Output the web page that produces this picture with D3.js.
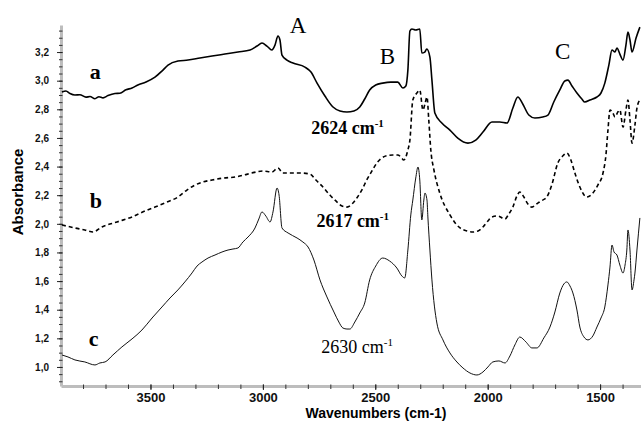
<!DOCTYPE html>
<html>
<head>
<meta charset="utf-8">
<script src="https://cdn.jsdelivr.net/npm/d3@7"></script>
<style>
  body { margin: 0; background: #fff; }
  svg { display: block; }
</style>
</head>
<body>
<div id="chart"></div>
<script>
// spectra: [wavenumber cm-1, absorbance]
const spectrumA = [
  [3894,2.921],[3876,2.928],[3858,2.910],[3836,2.900],[3814,2.902],[3787,2.885],[3769,2.889],
  [3747,2.874],[3729,2.888],[3711,2.880],[3689,2.896],[3658,2.910],[3636,2.912],[3609,2.936],
  [3582,2.949],[3556,2.970],[3520,2.991],[3480,3.025],[3449,3.067],[3422,3.109],[3378,3.137],
  [3333,3.144],[3280,3.158],[3226,3.172],[3169,3.186],[3111,3.200],[3057,3.214],[3026,3.242],
  [3004,3.263],[2982,3.242],[2960,3.214],[2946,3.249],[2933,3.312],[2924,3.284],[2915,3.179],
  [2893,3.144],[2866,3.123],[2813,3.095],[2786,3.060],[2759,2.983],[2724,2.893],[2688,2.816],
  [2657,2.788],[2626,2.781],[2595,2.788],[2569,2.816],[2547,2.872],[2525,2.935],[2498,2.970],
  [2467,2.983],[2431,2.990],[2400,2.990],[2377,2.949],[2364,2.963],[2355,3.074],[2346,3.347],
  [2337,3.361],[2320,3.354],[2302,3.361],[2293,3.193],[2280,3.200],[2271,3.221],[2257,3.165],
  [2248,3.004],[2235,2.774],[2204,2.704],[2168,2.655],[2133,2.599],[2088,2.564],[2053,2.585],
  [2021,2.641],[1981,2.711],[1946,2.711],[1914,2.704],[1888,2.809],[1866,2.886],[1844,2.837],
  [1817,2.760],[1790,2.739],[1755,2.746],[1732,2.760],[1706,2.851],[1679,2.935],[1657,2.998],
  [1643,3.004],[1625,2.963],[1603,2.914],[1581,2.872],[1568,2.851],[1545,2.865],[1514,2.886],
  [1496,2.914],[1479,2.983],[1461,3.109],[1447,3.214],[1434,3.200],[1425,3.228],[1412,3.186],
  [1398,3.144],[1385,3.249],[1376,3.339],[1367,3.284],[1358,3.200],[1340,3.298],[1323,3.374]
];

const spectrumB = [
  [3894,1.992],[3836,1.971],[3792,1.957],[3756,1.943],[3716,1.978],[3649,2.013],[3582,2.048],
  [3524,2.090],[3480,2.117],[3427,2.152],[3378,2.187],[3338,2.236],[3302,2.271],[3267,2.292],
  [3226,2.306],[3173,2.320],[3124,2.327],[3084,2.341],[3049,2.355],[3000,2.369],[2960,2.362],
  [2933,2.390],[2911,2.355],[2871,2.355],[2835,2.355],[2791,2.348],[2764,2.306],[2733,2.257],
  [2702,2.201],[2670,2.152],[2648,2.124],[2626,2.117],[2604,2.138],[2582,2.180],[2560,2.236],
  [2538,2.306],[2515,2.369],[2493,2.425],[2471,2.460],[2449,2.476],[2422,2.481],[2400,2.481],
  [2386,2.467],[2373,2.446],[2355,2.516],[2346,2.585],[2333,2.865],[2315,2.914],[2302,2.935],
  [2288,2.795],[2279,2.837],[2270,2.886],[2262,2.725],[2253,2.516],[2239,2.376],[2213,2.215],
  [2168,2.062],[2123,1.971],[2092,1.950],[2066,1.943],[2043,1.950],[2021,1.978],[1999,2.020],
  [1981,2.048],[1955,2.055],[1923,2.034],[1906,2.069],[1888,2.117],[1870,2.194],[1857,2.222],
  [1839,2.187],[1821,2.138],[1803,2.117],[1777,2.145],[1755,2.166],[1737,2.187],[1715,2.271],
  [1688,2.425],[1666,2.474],[1648,2.495],[1630,2.446],[1612,2.355],[1590,2.257],[1559,2.187],
  [1532,2.215],[1510,2.271],[1487,2.355],[1474,2.481],[1465,2.655],[1456,2.795],[1443,2.774],
  [1434,2.746],[1421,2.781],[1412,2.795],[1398,2.676],[1385,2.795],[1376,2.865],[1367,2.725],
  [1358,2.564],[1345,2.690],[1336,2.809],[1323,2.865]
];

const spectrumC = [
  [3894,1.084],[3867,1.070],[3836,1.049],[3792,1.035],[3747,1.014],[3725,1.028],[3702,1.035],
  [3667,1.084],[3627,1.140],[3582,1.196],[3538,1.258],[3493,1.342],[3449,1.419],[3413,1.482],
  [3378,1.538],[3347,1.594],[3315,1.657],[3293,1.705],[3271,1.733],[3244,1.761],[3213,1.782],
  [3182,1.803],[3155,1.817],[3133,1.824],[3111,1.831],[3089,1.873],[3066,1.908],[3035,1.971],
  [3018,2.034],[3004,2.083],[2987,2.055],[2968,2.013],[2955,2.083],[2937,2.250],[2928,2.201],
  [2915,1.971],[2888,1.936],[2848,1.901],[2822,1.873],[2799,1.838],[2773,1.747],[2746,1.608],
  [2715,1.489],[2684,1.384],[2662,1.314],[2644,1.272],[2626,1.265],[2613,1.265],[2591,1.314],
  [2569,1.377],[2547,1.447],[2525,1.608],[2498,1.705],[2467,1.761],[2436,1.740],[2404,1.691],
  [2382,1.636],[2369,1.622],[2355,1.817],[2342,2.062],[2333,2.166],[2320,2.320],[2310,2.397],
  [2302,2.306],[2293,2.027],[2284,2.166],[2279,2.215],[2270,2.166],[2266,2.048],[2257,1.817],
  [2248,1.608],[2226,1.307],[2199,1.189],[2168,1.098],[2141,1.042],[2110,0.993],[2079,0.958],
  [2048,0.944],[2021,0.965],[1999,1.000],[1977,1.035],[1950,1.042],[1923,1.028],[1901,1.077],
  [1879,1.154],[1857,1.209],[1830,1.175],[1803,1.133],[1781,1.133],[1750,1.203],[1723,1.279],
  [1701,1.384],[1679,1.517],[1661,1.580],[1648,1.594],[1634,1.566],[1621,1.517],[1603,1.398],
  [1590,1.279],[1572,1.210],[1554,1.189],[1532,1.217],[1514,1.279],[1496,1.342],[1479,1.419],
  [1465,1.573],[1456,1.698],[1447,1.852],[1438,1.803],[1425,1.782],[1412,1.712],[1398,1.656],
  [1389,1.712],[1381,1.817],[1376,1.957],[1367,1.817],[1358,1.538],[1349,1.608],[1345,1.656],
  [1336,1.817],[1323,2.041]
];

const xTicks = [3500, 3000, 2500, 2000, 1500];
const yTicks = [1.0, 1.2, 1.4, 1.6, 1.8, 2.0, 2.2, 2.4, 2.6, 2.8, 3.0, 3.2];

// curve letters and band letters, placed at [wavenumber, absorbance]
const curveNames = ["a", "b", "c"];
const curveNamePos = [[3770, 3.015], [3770, 2.11], [3775, 1.145]];
const bandNames = ["A", "B", "C"];
const bandNamePos = [[2880, 3.33], [2480, 3.12], [1700, 3.15]];
// minimum of the OD band for each curve
const minLabels = ["2624", "2617", "2630"];
const minLabelPos = [[2785, 2.63], [2762, 1.98], [2740, 1.098]];
const minLabelBold = [true, true, false];

const W = 641, H = 422;
const margin = {left: 61, right: 641, top: 25, bottom: 386};

const svg = d3.select("#chart")
  .append("svg")
    .attr("width", W)
    .attr("height", H);

// reversed wavenumber axis
const x = d3.scaleLinear()
  .domain([3898, 1318])
  .range([margin.left, margin.right]);

const y = d3.scaleLinear()
  .domain([0.867, 3.389])
  .range([margin.bottom, margin.top]);

const sans = "'Liberation Sans', Arial, sans-serif";
const serif = "'Liberation Serif', 'Times New Roman', serif";
const comma = d => d3.format(".1f")(d).replace(".", ",");

// x axis: grey bar with minor ticks every 100
const xMinor = svg.append("g")
  .attr("transform", "translate(0," + margin.bottom + ")")
  .call(d3.axisBottom(x).tickValues(d3.range(3800, 1300, -100)).tickSize(3).tickSizeOuter(0).tickFormat(""));
xMinor.select(".domain").attr("stroke", "#bdbdbd").attr("stroke-width", 3);
xMinor.selectAll(".tick line").attr("stroke", "#333").attr("y1", -1.5);

const xAxis = svg.append("g")
  .attr("transform", "translate(0," + margin.bottom + ")")
  .call(d3.axisBottom(x).tickValues(xTicks).tickSize(4).tickPadding(3)
    .tickFormat(d3.format("d")).tickSizeOuter(0));
xAxis.select(".domain").remove();
xAxis.selectAll(".tick line").attr("stroke", "#222").attr("y1", -1.5);
xAxis.selectAll("text")
  .attr("font-family", sans)
  .attr("font-size", 13)
  .attr("font-weight", "bold")
  .attr("fill", "#111");

// y axis: grey bar with minor ticks every 0.05
const yMinor = svg.append("g")
  .attr("transform", "translate(" + margin.left + ",0)")
  .call(d3.axisLeft(y).tickValues(d3.range(0.9, 3.39, 0.05)).tickSize(2).tickSizeOuter(0).tickFormat(""));
yMinor.select(".domain").attr("stroke", "#bdbdbd").attr("stroke-width", 3);
yMinor.selectAll(".tick line").attr("stroke", "#333").attr("x1", 1.5);

const yAxis = svg.append("g")
  .attr("transform", "translate(" + margin.left + ",0)")
  .call(d3.axisLeft(y).tickValues(yTicks).tickSize(4).tickPadding(8).tickFormat(comma).tickSizeOuter(0));
yAxis.select(".domain").remove();
yAxis.selectAll(".tick line").attr("stroke", "#222").attr("x1", 1.5);
yAxis.selectAll("text")
  .attr("font-family", sans)
  .attr("font-size", 10)
  .attr("font-weight", "bold")
  .attr("fill", "#111");

// axis titles
svg.append("text")
  .attr("x", 376)
  .attr("y", 418)
  .attr("text-anchor", "middle")
  .attr("font-family", sans)
  .attr("font-size", 14)
  .attr("font-weight", "bold")
  .text("Wavenumbers (cm-1)");

svg.append("text")
  .attr("transform", "translate(23,192) rotate(-90)")
  .attr("text-anchor", "middle")
  .attr("font-family", sans)
  .attr("font-size", 15)
  .attr("font-weight", "bold")
  .text("Absorbance");

// spectra
const line = d3.line()
  .x(d => x(d[0]))
  .y(d => y(d[1]))
  .curve(d3.curveMonotoneX);

svg.append("path")
  .datum(spectrumA)
  .attr("fill", "none")
  .attr("stroke", "#000")
  .attr("stroke-width", 1.6)
  .attr("d", line);

svg.append("path")
  .datum(spectrumB)
  .attr("fill", "none")
  .attr("stroke", "#000")
  .attr("stroke-width", 1.6)
  .attr("stroke-dasharray", "4,3")
  .attr("d", line);

svg.append("path")
  .datum(spectrumC)
  .attr("fill", "none")
  .attr("stroke", "#111")
  .attr("stroke-width", 1)
  .attr("d", line);

// annotations
svg.selectAll(".curve-name")
  .data(curveNames)
  .enter()
  .append("text")
    .attr("class", "curve-name")
    .attr("x", (d, i) => x(curveNamePos[i][0]))
    .attr("y", (d, i) => y(curveNamePos[i][1]))
    .attr("font-family", serif)
    .attr("font-size", 22)
    .attr("font-weight", "bold")
    .text(d => d);

svg.selectAll(".band-name")
  .data(bandNames)
  .enter()
  .append("text")
    .attr("class", "band-name")
    .attr("x", (d, i) => x(bandNamePos[i][0]))
    .attr("y", (d, i) => y(bandNamePos[i][1]))
    .attr("font-family", serif)
    .attr("font-size", 23)
    .text(d => d);

const minText = svg.selectAll(".min-label")
  .data(minLabels)
  .enter()
  .append("text")
    .attr("class", "min-label")
    .attr("x", (d, i) => x(minLabelPos[i][0]))
    .attr("y", (d, i) => y(minLabelPos[i][1]))
    .attr("font-family", serif)
    .attr("font-size", 18)
    .attr("font-weight", (d, i) => minLabelBold[i] ? "bold" : "normal");
minText.append("tspan").text(d => d + " cm");
minText.append("tspan")
  .attr("font-size", 11)
  .attr("dy", -7)
  .text("-1");
</script>
</body>
</html>
